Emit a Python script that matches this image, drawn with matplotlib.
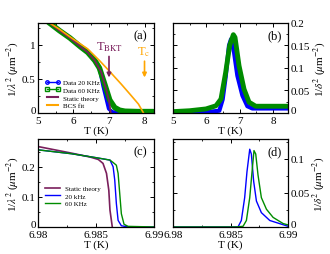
import matplotlib
matplotlib.use('Agg')
import matplotlib.pyplot as plt
import matplotlib.transforms as mtransforms
from matplotlib.lines import Line2D
from matplotlib.ticker import MultipleLocator, FixedLocator, FuncFormatter

plt.rcParams['font.family'] = ['Liberation Serif', 'DejaVu Serif']
plt.rcParams['mathtext.fontset'] = 'stix'

purple = '#7a1f5c'
blue = '#0000ff'
green = '#008c00'
orange = '#ffa500'

# (a) superfluid density vs T
t_20a = [5.3, 5.6, 5.9, 6.2, 6.4, 6.6, 6.73, 6.83, 6.92, 6.99, 7.1, 7.3, 7.6, 8.0, 8.25]
v_20a = [1.33, 1.21, 1.10, 0.97, 0.89, 0.77, 0.66, 0.40, 0.21, 0.06, 0.015, 0.01, 0.01, 0.01, 0.01]
t_60a = [5.3, 5.6, 5.9, 6.2, 6.4, 6.6, 6.73, 6.88, 7.02, 7.16, 7.3, 7.45, 7.8, 8.25]
v_60a = [1.33, 1.21, 1.10, 0.97, 0.89, 0.77, 0.66, 0.42, 0.19, 0.08, 0.04, 0.025, 0.02, 0.02]
t_sta = [5.3, 5.6, 5.9, 6.2, 6.4, 6.6, 6.78, 6.92, 7.0, 7.05]
v_sta = [1.33, 1.21, 1.10, 0.97, 0.89, 0.77, 0.60, 0.35, 0.18, 0.0]
t_bcs = [5.3, 5.6, 5.92, 6.4, 6.73, 7.0, 7.35, 7.6, 7.83, 7.97]
v_bcs = [1.33, 1.23, 1.11, 0.94, 0.77, 0.62, 0.42, 0.27, 0.13, 0.0]

# (b) dissipation peak vs T
t_20b = [5.0, 5.5, 6.0, 6.39, 6.49, 6.58, 6.68, 6.74, 6.83, 6.93, 7.08, 7.23, 7.38, 7.8, 8.5]
v_20b = [0.0, 0.001, 0.002, 0.005, 0.03, 0.08, 0.15, 0.164, 0.135, 0.083, 0.039, 0.015, 0.01, 0.01, 0.01]
t_60b = [5.0, 5.5, 5.99, 6.29, 6.44, 6.58, 6.70, 6.81, 6.86, 6.98, 7.13, 7.28, 7.48, 8.0, 8.5]
v_60b = [0.003, 0.005, 0.009, 0.016, 0.031, 0.09, 0.15, 0.174, 0.168, 0.105, 0.053, 0.024, 0.015, 0.015, 0.015]

# (c) theory, zoom near transition
t_stc = [6.98, 6.9829, 6.9845, 6.9852, 6.9856, 6.9859, 6.9861, 6.9862, 6.9864]
v_stc = [0.267, 0.245, 0.232, 0.224, 0.211, 0.178, 0.122, 0.056, 0.0]
t_20c = [6.98, 6.9829, 6.985, 6.9862, 6.98647, 6.98661, 6.98675, 6.9869, 6.98718, 6.9878, 6.99]
v_20c = [0.256, 0.243, 0.230, 0.222, 0.200, 0.156, 0.078, 0.022, 0.004, 0.0, 0.0]
t_60c = [6.98, 6.9829, 6.985, 6.9862, 6.98647, 6.98675, 6.9869, 6.98704, 6.98718, 6.98741, 6.98776, 6.99]
v_60c = [0.256, 0.243, 0.230, 0.222, 0.214, 0.205, 0.178, 0.111, 0.044, 0.009, 0.002, 0.0]

# (d) theory dissipation
t_20d = [6.98, 6.98565, 6.98594, 6.98623, 6.98643, 6.98667, 6.98681, 6.98701, 6.98725, 6.98768, 6.98841, 6.99]
v_20d = [0.0, 0.0, 0.0095, 0.043, 0.081, 0.114, 0.107, 0.067, 0.038, 0.021, 0.0095, 0.001]
t_60d = [6.98, 6.9855, 6.98609, 6.98638, 6.98667, 6.98687, 6.98704, 6.98719, 6.98739, 6.98768, 6.98812, 6.9887, 6.98957, 6.99]
v_60d = [0.0, 0.0, 0.001, 0.0095, 0.043, 0.081, 0.112, 0.107, 0.076, 0.043, 0.026, 0.014, 0.005, 0.003]

lam_label = r'1/$\lambda^2$ ($\mu$m$^{-2}$)'
del_label = r'1/$\delta^2$ ($\mu$m$^{-2}$)'
fs = 8
gfmt = FuncFormatter(lambda v, p: '%g' % round(v, 4))

fig = plt.figure(figsize=(3.3, 2.55), dpi=100)
ax_a = fig.add_axes([0.115, 0.553, 0.352, 0.353])
ax_b = fig.add_axes([0.524, 0.553, 0.349, 0.353])
ax_c = fig.add_axes([0.115, 0.106, 0.352, 0.345])
ax_d = fig.add_axes([0.524, 0.106, 0.349, 0.345])

for ax in [ax_a, ax_b, ax_c, ax_d]:
  ax.tick_params(which='both', direction='in', top=True, right=True,
                 labelsize=fs)
  ax.tick_params(axis='x', pad=2.2)
  ax.tick_params(axis='y', pad=1.5)
  ax.tick_params(which='major', length=3, width=0.7)
  ax.tick_params(which='minor', length=1.5, width=0.6)
  for s in ax.spines.values():
    s.set_linewidth(0.9)

if True: # (a)
  ax = ax_a
  ax.plot(t_20a, v_20a, color=blue, lw=2.5, solid_capstyle='round')
  ax.plot(t_60a, v_60a, color=green, lw=4, solid_capstyle='round')
  ax.plot(t_sta, v_sta, color=purple, lw=1.3)
  ax.plot(t_bcs, v_bcs, color=orange, lw=1.2)
  ax.set_xlim(5, 8.27)
  ax.set_ylim(0, 1.32)
  ax.xaxis.set_major_locator(MultipleLocator(1))
  ax.xaxis.set_minor_locator(MultipleLocator(0.5))
  ax.yaxis.set_major_locator(MultipleLocator(0.5))
  ax.yaxis.set_minor_locator(MultipleLocator(0.25))
  ax.xaxis.set_major_formatter(gfmt)
  ax.yaxis.set_major_formatter(gfmt)
  ax.set_xlabel('T (K)', fontsize=fs, labelpad=0)
  ax.set_ylabel(lam_label, fontsize=fs, labelpad=1)
  ax.text(0.88, 0.86, '(a)', transform=ax.transAxes, fontsize=fs+1,
          ha='center', va='center')
  ax.annotate('', xy=(7.0, 0.48), xytext=(7.0, 0.87),
              arrowprops=dict(arrowstyle='-|>', color=purple, lw=1.2,
                              mutation_scale=6))
  ax.text(7.02, 0.98, r'T$_{\rm BKT}$', color=purple, fontsize=fs+1,
          ha='center', va='center')
  ax.annotate('', xy=(8.0, 0.48), xytext=(8.0, 0.8),
              arrowprops=dict(arrowstyle='-|>', color=orange, lw=1.2,
                              mutation_scale=6))
  ax.text(7.98, 0.91, r'T$_{\rm c}$', color=orange, fontsize=fs+1,
          ha='center', va='center')
  handles = [
    Line2D([], [], color=blue, lw=1, marker='o', ms=2.5, mfc='none',
           markevery=[0, -1]),
    Line2D([], [], color=green, lw=1, marker='s', ms=2.5, mfc='none',
           markevery=[0, -1]),
    Line2D([], [], color=purple, lw=1.5),
    Line2D([], [], color=orange, lw=1.5),
  ]
  ax.legend(handles, ['Data 20 KHz', 'Data 60 KHz', 'Static theory', 'BCS fit'],
            loc='lower left', bbox_to_anchor=(0.02, 0.0), frameon=False,
            fontsize=5, handlelength=2.2, handletextpad=0.4,
            labelspacing=0.25, borderpad=0.2, numpoints=2)

if True: # (b)
  ax = ax_b
  ax.plot(t_20b, v_20b, color=blue, lw=3)
  ax.plot(t_60b, v_60b, color=green, lw=3.5)
  ax.set_xlim(5, 8.45)
  ax.set_ylim(0, 0.2)
  ax.xaxis.set_major_locator(MultipleLocator(1))
  ax.xaxis.set_minor_locator(MultipleLocator(0.5))
  ax.yaxis.set_major_locator(MultipleLocator(0.05))
  ax.yaxis.set_minor_locator(MultipleLocator(0.025))
  ax.xaxis.set_major_formatter(gfmt)
  ax.yaxis.set_major_formatter(gfmt)
  ax.tick_params(labelleft=False, labelright=True)
  ax.yaxis.set_label_position('right')
  ax.set_xlabel('T (K)', fontsize=fs, labelpad=0)
  ax.set_ylabel(del_label, fontsize=fs, labelpad=1)
  ax.text(0.88, 0.86, '(b)', transform=ax.transAxes, fontsize=fs+1,
          ha='center', va='center')

if True: # (c)
  ax = ax_c
  ax.plot(t_stc, v_stc, color=purple, lw=1.2, label='Static theory')
  ax.plot(t_20c, v_20c, color=blue, lw=1.0, label='20 kHz')
  ax.plot(t_60c, v_60c, color=green, lw=1.0, label='60 KHz')
  ax.set_xlim(6.98, 6.99)
  ax.set_ylim(0, 0.292)
  ax.xaxis.set_major_locator(FixedLocator([6.98, 6.985, 6.99]))
  ax.xaxis.set_minor_locator(MultipleLocator(0.0025))
  ax.set_xticklabels(['6.98', '6.985', '6.99'])
  ax.yaxis.set_major_locator(MultipleLocator(0.1))
  ax.yaxis.set_minor_locator(MultipleLocator(0.05))
  ax.yaxis.set_major_formatter(gfmt)
  ax.set_xlabel('T (K)', fontsize=fs, labelpad=0)
  ax.set_ylabel(lam_label, fontsize=fs, labelpad=1)
  ax.text(0.88, 0.86, '(c)', transform=ax.transAxes, fontsize=fs+1,
          ha='center', va='center')
  ax.legend(loc='lower left', bbox_to_anchor=(0.02, 0.18), frameon=False,
            fontsize=5, handlelength=2.2, handletextpad=0.6,
            labelspacing=0.25, borderpad=0.2)

if True: # (d)
  ax = ax_d
  ax.plot(t_20d, v_20d, color=blue, lw=1.0)
  ax.plot(t_60d, v_60d, color=green, lw=1.0)
  ax.set_xlim(6.98, 6.99)
  ax.set_ylim(0, 0.129)
  ax.xaxis.set_major_locator(FixedLocator([6.98, 6.985, 6.99]))
  ax.xaxis.set_minor_locator(MultipleLocator(0.0025))
  ax.set_xticklabels(['6.98', '6.985', '6.99'])
  ax.yaxis.set_major_locator(MultipleLocator(0.05))
  ax.yaxis.set_minor_locator(MultipleLocator(0.025))
  ax.yaxis.set_major_formatter(gfmt)
  ax.tick_params(labelleft=False, labelright=True)
  ax.yaxis.set_label_position('right')
  ax.set_xlabel('T (K)', fontsize=fs, labelpad=0)
  ax.set_ylabel(del_label, fontsize=fs, labelpad=1)
  ax.text(0.88, 0.86, '(d)', transform=ax.transAxes, fontsize=fs+1,
          ha='center', va='center')

# nudge the "0" labels a little up so they clear the T tick labels
fig.canvas.draw()
lift = mtransforms.ScaledTranslation(0, 2.5 / 72, fig.dpi_scale_trans)
for ax in [ax_a, ax_b, ax_c, ax_d]:
  for tk in ax.yaxis.get_major_ticks():
    if abs(tk.get_loc()) < 1e-9:
      for lab in (tk.label1, tk.label2):
        lab.set_transform(lab.get_transform() + lift)

fig.savefig('out.png', dpi=100)
